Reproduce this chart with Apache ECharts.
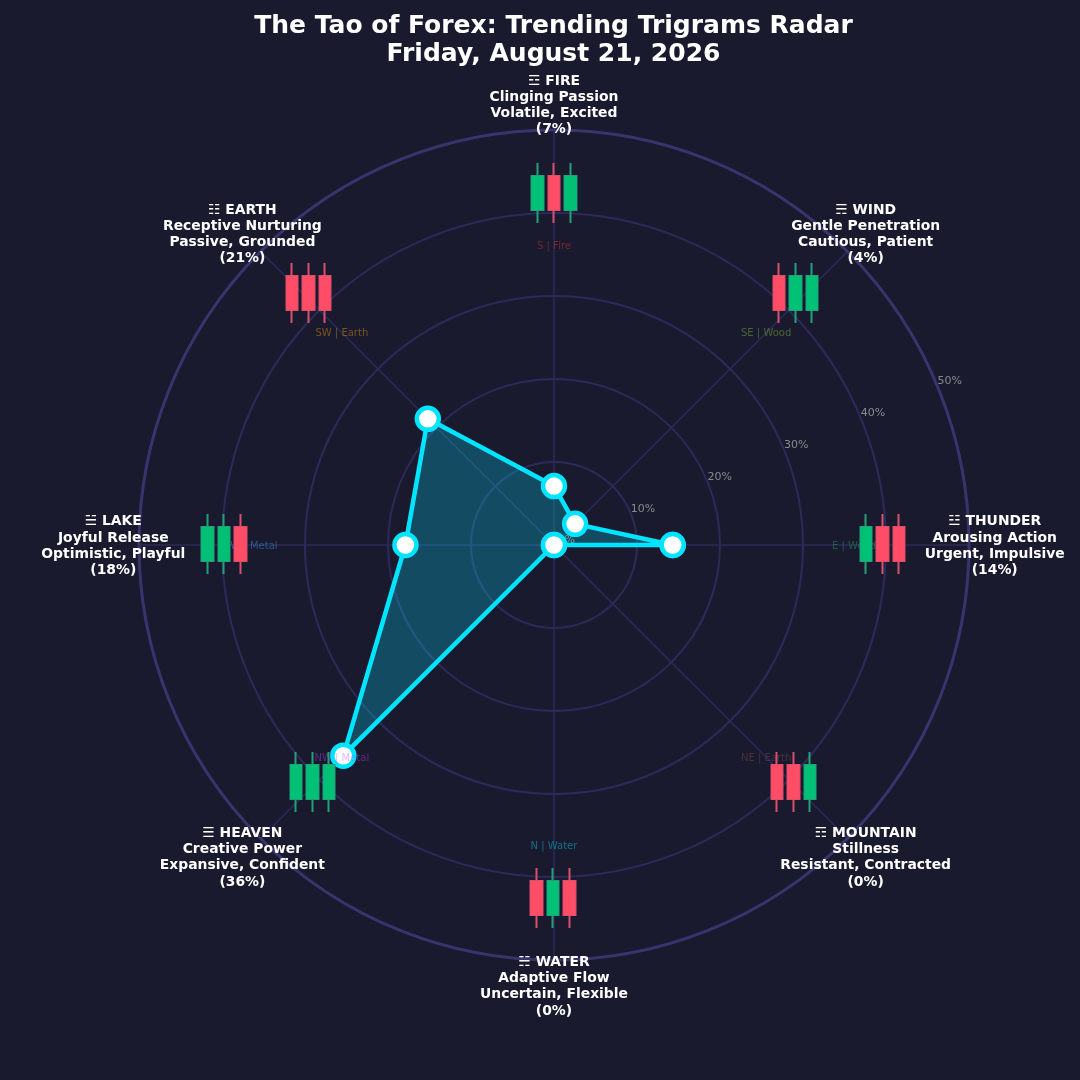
<!DOCTYPE html>
<html>
<head>
<meta charset="utf-8">
<style>html,body{margin:0;padding:0;background:#1a1a2e}#c{width:1080px;height:1080px}</style>
<script src="https://cdn.jsdelivr.net/npm/echarts@6/dist/echarts.min.js"></script>
</head>
<body>
<div id="c"></div>
<script>
const titleLines = ['The Tao of Forex: Trending Trigrams Radar', 'Friday, August 21, 2026'];
const angles = [0, 45, 90, 135, 180, 225, 270, 315];
const trigramNames = ['☳ THUNDER', '☴ WIND', '☲ FIRE', '☷ EARTH', '☱ LAKE', '☰ HEAVEN', '☵ WATER', '☶ MOUNTAIN'];
const trigramMeanings = ['Arousing Action', 'Gentle Penetration', 'Clinging Passion', 'Receptive Nurturing', 'Joyful Release', 'Creative Power', 'Adaptive Flow', 'Stillness'];
const trigramMoods = ['Urgent, Impulsive', 'Cautious, Patient', 'Volatile, Excited', 'Passive, Grounded', 'Optimistic, Playful', 'Expansive, Confident', 'Uncertain, Flexible', 'Resistant, Contracted'];
const percentLabels = ['14%', '4%', '7%', '21%', '18%', '36%', '0%', '0%'];
const percentValues = [14.3, 3.6, 7.1, 21.5, 17.9, 35.9, 0, 0];
const directionLabels = ['E | Wood', 'SE | Wood', 'S | Fire', 'SW | Earth', 'W | Metal', 'NW | Metal', 'N | Water', 'NE | Earth'];
const tickValues = [0, 10, 20, 30, 40, 50];
const bullCandle = [0.215, 0.785, 0, 1];
const bearCandle = [0.785, 0.215, 0, 1];
const thunderCandles = [bullCandle, bearCandle, bearCandle];
const windCandles = [bearCandle, bullCandle, bullCandle];
const fireCandles = [bullCandle, bearCandle, bullCandle];
const earthCandles = [bearCandle, bearCandle, bearCandle];
const lakeCandles = [bullCandle, bullCandle, bearCandle];
const heavenCandles = [bullCandle, bullCandle, bullCandle];
const waterCandles = [bearCandle, bullCandle, bearCandle];
const mountainCandles = [bearCandle, bearCandle, bullCandle];

// layout and style
const CX = 554, CY = 545, R = 415;
const BG = '#1a1a2e', GRID = '#2c2a5a', RIM = '#38346e', CYAN = '#00e5ff';
const GREEN = '#00c176', RED = '#ff4d67', GREEN_W = '#22a07a', RED_W = '#d9506a';
const dirColors = ['rgba(48,186,94,.4)', 'rgba(148,211,56,.4)', 'rgba(248,61,56,.4)', 'rgba(255,170,6,.4)', 'rgba(61,173,255,.4)', 'rgba(198,73,255,.4)', 'rgba(0,236,255,.4)', 'rgba(136,86,81,.4)'];
const candleSets = [thunderCandles, windCandles, fireCandles, earthCandles, lakeCandles, heavenCandles, waterCandles, mountainCandles];
const candleCentres = [[882.5, 544], [795.5, 293], [554, 193], [308.5, 293], [224, 544], [312.5, 782], [553, 898], [793.5, 782]];
const DIR_R = 36.15, NAME_R = 53.1, TICK_OFFSET = 1.6;

const grids = [], xAxes = [], yAxes = [], candleSeries = [];
candleSets.forEach((set, i) => {
  const [cx, cy] = candleCentres[i];
  grids.push({ left: cx - 25, top: cy - 30, width: 50, height: 60, show: false });
  xAxes.push({ type: 'category', gridIndex: i, data: ['a', 'b', 'c'], show: false, boundaryGap: true });
  yAxes.push({ type: 'value', gridIndex: i, min: 0, max: 1, show: false, splitLine: { show: false } });
  candleSeries.push({
    type: 'candlestick', xAxisIndex: i, yAxisIndex: i, data: set, barWidth: 12, z: 6, silent: true,
    itemStyle: { color: GREEN_W, color0: RED_W, borderColor: GREEN_W, borderColor0: RED_W, borderWidth: 2 }
  });
  candleSeries.push({
    type: 'candlestick', xAxisIndex: i, yAxisIndex: i, data: set, barWidth: 12, z: 7, silent: true,
    itemStyle: { color: GREEN, color0: RED, borderColor: GREEN, borderColor0: RED, borderWidth: 0 }
  });
});

const chart = echarts.init(document.getElementById('c'), null, { renderer: 'canvas' });
const FONT = '"DejaVu Sans"';
chart.setOption({
  animation: false,
  backgroundColor: BG,
  title: {
    text: titleLines.join('\n'), left: CX - 5.5, top: 7, textAlign: 'center',
    textStyle: { color: '#ffffff', fontFamily: FONT, fontWeight: 'bold', fontSize: 25, lineHeight: 28 }
  },
  polar: { center: [CX, CY], radius: R },
  angleAxis: {
    type: 'value', min: 0, max: 360, interval: 45, startAngle: 0, clockwise: false,
    axisLine: { show: true, lineStyle: { color: RIM, width: 3 } },
    axisTick: { show: false }, axisLabel: { show: false },
    splitLine: { show: true, lineStyle: { color: GRID, width: 1.5 } }
  },
  radiusAxis: {
    type: 'value', min: 0, max: 50, interval: 10,
    axisLine: { show: false }, axisTick: { show: false }, axisLabel: { show: false },
    splitLine: { show: true, lineStyle: { color: GRID, width: 2 } }
  },
  grid: grids, xAxis: xAxes, yAxis: yAxes,
  series: [
    {
      type: 'scatter', coordinateSystem: 'polar', symbolSize: 0, clip: false, z: 1, silent: true,
      itemStyle: { opacity: 1 },
      data: tickValues.map(v => ({ value: [v + TICK_OFFSET, 22.5], label: { formatter: v + '%' } })),
      label: { show: true, position: 'inside', offset: [0, 0.5], color: '#8a8a8e', fontFamily: FONT, fontSize: 11 }
    },
    {
      type: 'line', coordinateSystem: 'polar', z: 3, silent: true, clip: false,
      data: percentValues.concat(percentValues[0]).map((v, i) => [v, i < angles.length ? angles[i] : 360]),
      lineStyle: { color: CYAN, width: 4.5 }, areaStyle: { color: CYAN, opacity: 0.25 },
      symbol: 'circle', symbolSize: 22, showAllSymbol: true,
      itemStyle: { color: '#ffffff', borderColor: CYAN, borderWidth: 4.5, opacity: 1 }
    },
    {
      type: 'scatter', coordinateSystem: 'polar', symbolSize: 0, clip: false, z: 4, silent: true,
      itemStyle: { opacity: 1 },
      data: directionLabels.map((t, i) => ({ value: [DIR_R, angles[i]], label: { formatter: t, color: dirColors[i] } })),
      label: { show: true, position: 'inside', offset: [0, 1], fontFamily: FONT, fontSize: 10 }
    },
    {
      type: 'scatter', coordinateSystem: 'polar', symbolSize: 0, clip: false, z: 8, silent: true,
      itemStyle: { opacity: 1 },
      data: trigramNames.map((t, i) => ({
        value: [NAME_R, angles[i]],
        label: { formatter: [t, trigramMeanings[i], trigramMoods[i], '(' + percentLabels[i] + ')'].join('\n') }
      })),
      label: { show: true, position: 'inside', offset: [0, 1], align: 'center', verticalAlign: 'middle', color: '#ffffff', fontFamily: FONT, fontWeight: 'bold', fontSize: 13.9, lineHeight: 16.2 }
    }
  ].concat(candleSeries)
});
</script>
</body>
</html>
